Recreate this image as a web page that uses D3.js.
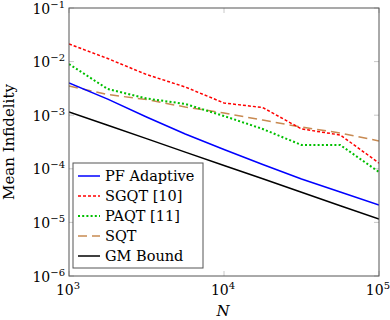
<!DOCTYPE html>
<html>
<head>
<meta charset="utf-8">
<script src="https://cdn.jsdelivr.net/npm/d3@7"></script>
<style>
  body { margin: 0; background: #fff; }
  text { font-family: "DejaVu Serif", "Liberation Serif", serif; fill: #000; }
</style>
</head>
<body>
<svg width="390" height="320"></svg>
<script>
// data
var N = [1000, 1778, 3162, 5623, 10000, 17783, 31623, 56234, 100000];
var pfAdaptive = [3.99e-3, 2.0e-3, 9.25e-4, 4.46e-4, 2.29e-4, 1.20e-4, 6.45e-5, 3.69e-5, 2.11e-5];
var sgqt = [2.13e-2, 1.14e-2, 5.74e-3, 3.36e-3, 1.69e-3, 1.39e-3, 5.53e-4, 4.28e-4, 1.28e-4];
var paqt = [9.0e-3, 3.08e-3, 2.05e-3, 1.62e-3, 9.66e-4, 5.53e-4, 2.78e-4, 2.78e-4, 8.7e-5];
var sqt = [3.51e-3, 2.43e-3, 1.96e-3, 1.42e-3, 1.10e-3, 8.1e-4, 6.0e-4, 4.66e-4, 3.30e-4];
var gmBound = [1.15e-3, 6.5e-4, 3.65e-4, 2.05e-4, 1.15e-4, 6.5e-5, 3.65e-5, 2.05e-5, 1.15e-5];

var xTicks = [1e3, 1e4, 1e5];
var xTickExp = ["3", "4", "5"];
var yTicks = [1e-1, 1e-2, 1e-3, 1e-4, 1e-5, 1e-6];
var yTickExp = ["\u22121", "\u22122", "\u22123", "\u22124", "\u22125", "\u22126"];

var seriesNames = ["PF Adaptive", "SGQT [10]", "PAQT [11]", "SQT", "GM Bound"];
var seriesValues = [pfAdaptive, sgqt, paqt, sqt, gmBound];
var seriesColors = ["#0000ff", "#ff0000", "#00bf00", "#c88a52", "#000000"];
var seriesDash = [null, "3,2", "2,2.2", "9,5", null];
var seriesWidth = [1.5, 1.5, 2, 1.5, 1.5];

var svg = d3.select("svg");

// plot box (don't call these top/left, window.top is read-only)
var pL = 69, pR = 379, pT = 8, pB = 276;

var x = d3.scaleLog().domain([1e3, 1e5]).range([pL, pR]);
var y = d3.scaleLog().domain([1e-6, 1e-1]).range([pB, pT]);

// ticks, light grey, inside on all four sides
var tickLen = 5;
var tg = svg.append("g").attr("stroke", "#c8c8c8").attr("stroke-width", 1);
xTicks.forEach(function(t) {
  tg.append("line").attr("x1", x(t)).attr("x2", x(t)).attr("y1", pB).attr("y2", pB - tickLen);
  tg.append("line").attr("x1", x(t)).attr("x2", x(t)).attr("y1", pT).attr("y2", pT + tickLen);
});
yTicks.forEach(function(t) {
  tg.append("line").attr("y1", y(t)).attr("y2", y(t)).attr("x1", pL).attr("x2", pL + tickLen);
  tg.append("line").attr("y1", y(t)).attr("y2", y(t)).attr("x1", pR).attr("x2", pR - tickLen);
});

// lines
svg.append("clipPath").attr("id", "clip")
  .append("rect").attr("x", pL).attr("y", pT).attr("width", pR - pL).attr("height", pB - pT);

var line = d3.line()
  .x(function(d, i) { return x(N[i]); })
  .y(function(d) { return y(d); });

var lg = svg.append("g").attr("clip-path", "url(#clip)");
// draw in reverse so blue ends up on top
for (var s = seriesValues.length - 1; s >= 0; s--) {
  lg.append("path")
    .datum(seriesValues[s])
    .attr("d", line)
    .attr("fill", "none")
    .attr("stroke", seriesColors[s])
    .attr("stroke-width", seriesWidth[s])
    .attr("stroke-dasharray", seriesDash[s]);
}

// frame
svg.append("rect")
  .attr("x", pL).attr("y", pT)
  .attr("width", pR - pL).attr("height", pB - pT)
  .attr("fill", "none").attr("stroke", "#555").attr("stroke-width", 1);

// tick labels (last one pinned to the right edge so it isn't cut)
xTicks.forEach(function(t, i) {
  var last = i === xTicks.length - 1;
  var tx = svg.append("text")
    .attr("x", last ? 390 : x(t) - 1).attr("y", 295)
    .attr("text-anchor", last ? "end" : "middle")
    .style("font-size", "14px");
  tx.append("tspan").text("10");
  tx.append("tspan").attr("dy", -6).style("font-size", "10px").text(xTickExp[i]);
});
yTicks.forEach(function(t, i) {
  var ty = svg.append("text")
    .attr("x", 65).attr("y", y(t) + 5.5)
    .attr("text-anchor", "end")
    .style("font-size", "14px");
  ty.append("tspan").text("10");
  ty.append("tspan").attr("dy", -6).style("font-size", "10px").text(yTickExp[i]);
});

// axis titles
svg.append("text")
  .attr("x", 223).attr("y", 316)
  .attr("text-anchor", "middle")
  .style("font-size", "15px").style("font-style", "italic")
  .text("N");

svg.append("text")
  .attr("transform", "translate(14," + ((pT + pB) / 2) + ") rotate(-90)")
  .attr("text-anchor", "middle")
  .style("font-size", "15px")
  .text("Mean Infidelity");

// legend
var legend = svg.append("g");
legend.append("rect")
  .attr("x", 73).attr("y", 163).attr("width", 130).attr("height", 105)
  .attr("fill", "#fff").attr("stroke", "#555").attr("stroke-width", 1);

seriesNames.forEach(function(name, i) {
  var ly = 176 + i * 20;
  legend.append("line")
    .attr("x1", 78).attr("x2", 100).attr("y1", ly).attr("y2", ly)
    .attr("stroke", seriesColors[i])
    .attr("stroke-width", seriesWidth[i])
    .attr("stroke-dasharray", seriesDash[i]);
  legend.append("text")
    .attr("x", 105).attr("y", ly + 5)
    .style("font-size", "14.5px")
    .text(name);
});
</script>
</body>
</html>
